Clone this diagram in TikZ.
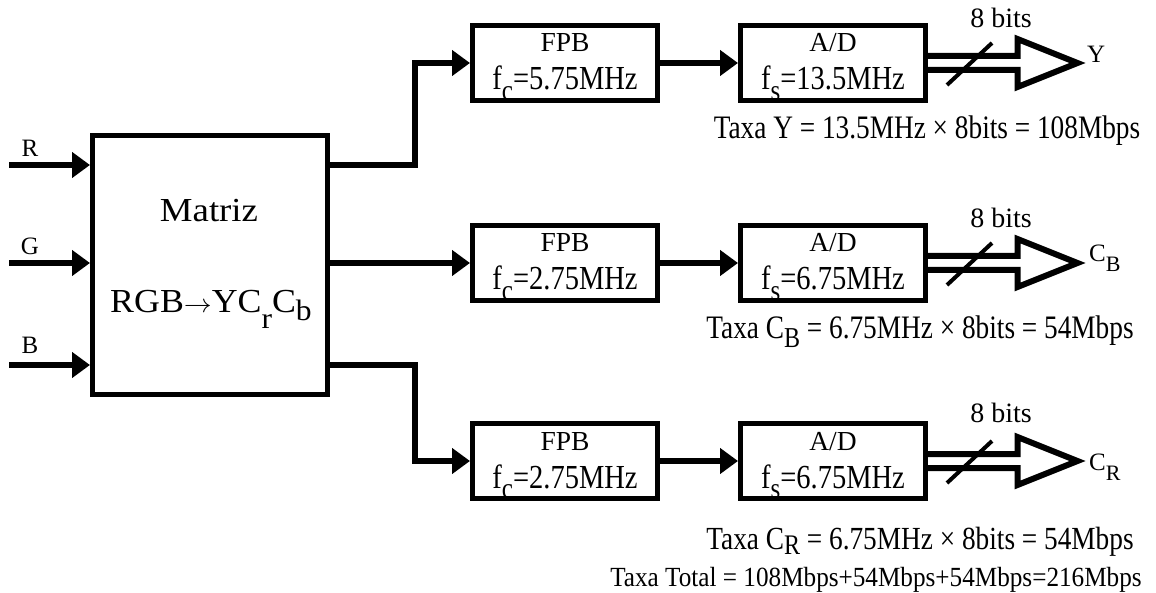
\documentclass[tikz,border=0pt]{standalone}
\usepackage{fontspec}
\usepackage{graphicx}
\setmainfont{Liberation Serif}
\usetikzlibrary{arrows.meta}
\newcommand{\lsub}[2][0.38em]{\raisebox{-#1}{\scalebox{0.88}{#2}}}
\newcommand{\tall}[2][1.18]{\scalebox{1}[#1]{#2}}
\begin{document}
\begin{tikzpicture}[x=1pt,y=-1pt,
  blk/.style={draw, line width=5pt, minimum width=185pt, minimum height=75pt, inner sep=0pt},
  head/.style={inner sep=0pt, anchor=base, font=\fontsize{27.5}{30}\selectfont},
  sub/.style={inner sep=0pt, anchor=base, font=\fontsize{28.5}{30}\selectfont},
  wire/.style={line width=5.5pt, -{Triangle[length=18pt,width=25pt]}},
  hollow/.style={line width=6pt, line join=miter},
  slash/.style={line width=4pt},
  lbl/.style={inner sep=0pt, font=\fontsize{25}{28}\selectfont},
  bits/.style={inner sep=0pt, anchor=base, font=\fontsize{28}{30}\selectfont},
  rate/.style={inner sep=0pt, anchor=base, font=\fontsize{27.3}{30}\selectfont},
  big/.style={inner sep=0pt, anchor=base, font=\fontsize{32}{40}\selectfont}
]
\useasboundingbox (0,0) rectangle (1156,593);

% matrix block
\node[draw, line width=5pt, minimum width=235pt, minimum height=259pt, inner sep=0pt] (mat) at (210,265) {};
\node[big] (mtitle) at (209,222) {\scalebox{1.15}[1.05]{Matriz}};
\node[big] (mfun) at (211,313) {\scalebox{1.12}[1.05]{RGB$\rightarrow$YC\lsub[0.45em]{r}C\lsub[0.22em]{b}}};

% inputs
\coordinate (inR) at (9,165);
\coordinate (inG) at (9,263);
\coordinate (inB) at (9,365);
\node[lbl, anchor=base] (lR) at (30,157) {R};
\node[lbl, anchor=base] (lG) at (30,255) {G};
\node[lbl, anchor=base] (lB) at (30,353) {B};
\draw[wire] (inR) -- (inR -| mat.west);
\draw[wire] (inG) -- (inG -| mat.west);
\draw[wire] (inB) -- (inB -| mat.west);

% filters
\node[blk] (f1) at (565,63) {};
\node[blk] (f2) at (565,263) {};
\node[blk] (f3) at (565,461) {};
% A/D
\node[blk] (a1) at (833,63) {};
\node[blk] (a2) at (833,263) {};
\node[blk] (a3) at (833,461) {};

\foreach \f/\v in {f1/5.75MHz, f2/2.75MHz, f3/2.75MHz}{
  \node[head] (\f h) at ([yshift=11pt]\f.center) {FPB};
  \node[sub] (\f s) at ([yshift=-27pt]\f.center) {\tall{f\lsub[0.32em]{c}=\v}};
}
\foreach \a/\v in {a1/13.5MHz, a2/6.75MHz, a3/6.75MHz}{
  \node[head] (\a h) at ([yshift=11pt]\a.center) {A/D};
  \node[sub] (\a s) at ([yshift=-27pt]\a.center) {\tall{f\lsub[0.32em]{s}=\v}};
}

% matrix to filters
\draw[wire] (mat.east |- inR) -- ++(85,0) |- (f1.west);
\draw[wire] (mat.east |- inG) -- (f2.west);
\draw[wire] (mat.east |- inB) -- ++(85,0) |- (f3.west);

% filters to A/D
\draw[wire] (f1) -- (a1);
\draw[wire] (f2) -- (a2);
\draw[wire] (f3) -- (a3);

% hollow bus arrows
\foreach \a in {a1,a2,a3}{
  \draw[hollow] ([xshift=-2.5pt,yshift=7pt]\a.east) -- ++(92,0) -- ++(0,-17) -- ++(60,24)
     -- ++(-60,24) -- ++(0,-17) -- ([xshift=-2.5pt,yshift=-7pt]\a.east);
  \draw[slash] ([xshift=19pt,yshift=-22pt]\a.east) -- ([xshift=64pt,yshift=20pt]\a.east);
}
\node[bits] (b1) at (1001,28) {8 bits};
\node[bits] (b2) at (1001,228) {8 bits};
\node[bits] (b3) at (1001,422) {8 bits};

\node[lbl, anchor=base west] (oY) at (1087,63) {Y};
\node[lbl, anchor=base west] (oB) at (1089,262) {C\lsub[0.4em]{B}};
\node[lbl, anchor=base west] (oR) at (1089,470) {C\lsub[0.4em]{R}};

% rates
\node[rate] (r1) at (927,139) {\tall[1.2]{Taxa Y = 13.5MHz × 8bits = 108Mbps}};
\node[rate] (r2) at (920,339) {\tall[1.2]{Taxa C\lsub[0.25em]{B} = 6.75MHz × 8bits = 54Mbps}};
\node[rate] (r3) at (920,549) {\tall[1.18]{Taxa C\lsub[0.18em]{R} = 6.75MHz × 8bits = 54Mbps}};
\node[rate, font=\fontsize{25.2}{28}\selectfont] (rt) at (876,586) {\tall[1.1]{Taxa Total = 108Mbps+54Mbps+54Mbps=216Mbps}};
\end{tikzpicture}
\end{document}
